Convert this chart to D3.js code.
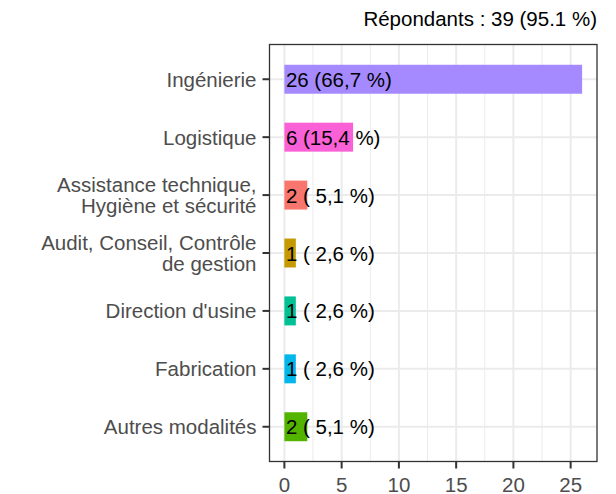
<!DOCTYPE html>
<html>
<head>
<meta charset="utf-8">
<script src="https://cdn.jsdelivr.net/npm/d3@7"></script>
<style>
  body { margin: 0; background: #fff; }
  text { font-family: "Liberation Sans", Arial, sans-serif; font-size: 20.5px; }
</style>
</head>
<body>
<div id="chart"></div>
<script>
// categories, top to bottom
var categories = [
    ["Ingénierie"],
    ["Logistique"],
    ["Assistance technique,", "Hygiène et sécurité"],
    ["Audit, Conseil, Contrôle", "de gestion"],
    ["Direction d'usine"],
    ["Fabrication"],
    ["Autres modalités"]
];
var counts = [26, 6, 2, 1, 1, 1, 2];
var barLabels = ["26 (66,7 %)", "6 (15,4 %)", "2 ( 5,1 %)", "1 ( 2,6 %)", "1 ( 2,6 %)", "1 ( 2,6 %)", "2 ( 5,1 %)"];
var barColors = ["#A58AFF", "#FB61D7", "#F8766D", "#C49A00", "#00C094", "#00B6EB", "#53B400"];
var xTicks = [0, 5, 10, 15, 20, 25];
var xMinor = [2.5, 7.5, 12.5, 17.5, 22.5];
var subtitle = "Répondants : 39 (95.1 %)";

var width = 616, height = 494;
var panel = { left: 269.5, right: 597, top: 44.5, bottom: 461.5 };

var svg = d3.select("#chart").append("svg")
    .attr("width", width)
    .attr("height", height);

var idx = d3.range(categories.length);

// ggplot style expansion: 5% on continuous, 0.6 on discrete
var x = d3.scaleLinear()
    .domain([-1.3, 27.3])
    .range([panel.left, panel.right]);

var y = d3.scalePoint()
    .domain(idx)
    .range([panel.top, panel.bottom])
    .padding(0.6);

var barH = y.step() * 0.5;

// panel grid
var grid = svg.append("g");
grid.selectAll("line.minor")
    .data(xMinor)
    .enter().append("line")
    .attr("x1", function(d) { return x(d); })
    .attr("x2", function(d) { return x(d); })
    .attr("y1", panel.top)
    .attr("y2", panel.bottom)
    .style("stroke", "#EBEBEB")
    .style("stroke-width", 1);

grid.selectAll("line.majorx")
    .data(xTicks)
    .enter().append("line")
    .attr("x1", function(d) { return x(d); })
    .attr("x2", function(d) { return x(d); })
    .attr("y1", panel.top)
    .attr("y2", panel.bottom)
    .style("stroke", "#EBEBEB")
    .style("stroke-width", 2);

grid.selectAll("line.majory")
    .data(idx)
    .enter().append("line")
    .attr("x1", panel.left)
    .attr("x2", panel.right)
    .attr("y1", function(d) { return y(d); })
    .attr("y2", function(d) { return y(d); })
    .style("stroke", "#EBEBEB")
    .style("stroke-width", 2);

// bars
svg.selectAll("rect.bar")
    .data(idx)
    .enter().append("rect")
    .attr("x", x(0))
    .attr("y", function(i) { return y(i) - barH / 2; })
    .attr("width", function(i) { return x(counts[i]) - x(0); })
    .attr("height", barH)
    .style("fill", function(i) { return barColors[i]; });

// bar labels
svg.selectAll("text.lab")
    .data(idx)
    .enter().append("text")
    .attr("x", x(0) + 1.5)
    .attr("y", function(i) { return y(i) + 7.5; })
    .style("fill", "#000")
    .text(function(i) { return barLabels[i]; });

// panel border
svg.append("rect")
    .attr("x", panel.left)
    .attr("y", panel.top)
    .attr("width", panel.right - panel.left)
    .attr("height", panel.bottom - panel.top)
    .style("fill", "none")
    .style("stroke", "#333333")
    .style("stroke-width", 1.3);

// y axis ticks and labels
var yAxis = svg.append("g");
yAxis.selectAll("line")
    .data(idx)
    .enter().append("line")
    .attr("x1", panel.left - 7)
    .attr("x2", panel.left)
    .attr("y1", function(i) { return y(i); })
    .attr("y2", function(i) { return y(i); })
    .style("stroke", "#333333")
    .style("stroke-width", 2);

var ylab = yAxis.selectAll("text")
    .data(idx)
    .enter().append("text")
    .attr("text-anchor", "end")
    .attr("x", panel.left - 13)
    .attr("y", function(i) {
        var n = categories[i].length;
        return y(i) + 7.5 - (n - 1) * 10.75;
    })
    .style("fill", "#4D4D4D");

ylab.selectAll("tspan")
    .data(function(i) { return categories[i]; })
    .enter().append("tspan")
    .attr("x", panel.left - 13)
    .attr("dy", function(d, j) { return j === 0 ? 0 : 21.5; })
    .text(function(d) { return d; });

// x axis ticks and labels
var xAxis = svg.append("g");
xAxis.selectAll("line")
    .data(xTicks)
    .enter().append("line")
    .attr("x1", function(d) { return x(d); })
    .attr("x2", function(d) { return x(d); })
    .attr("y1", panel.bottom)
    .attr("y2", panel.bottom + 7)
    .style("stroke", "#333333")
    .style("stroke-width", 2);

xAxis.selectAll("text")
    .data(xTicks)
    .enter().append("text")
    .attr("text-anchor", "middle")
    .attr("x", function(d) { return x(d); })
    .attr("y", 491.5)
    .style("fill", "#4D4D4D")
    .text(function(d) { return d; });

// subtitle
svg.append("text")
    .attr("text-anchor", "end")
    .attr("x", panel.right)
    .attr("y", 26)
    .style("fill", "#000")
    .text(subtitle);
</script>
</body>
</html>
